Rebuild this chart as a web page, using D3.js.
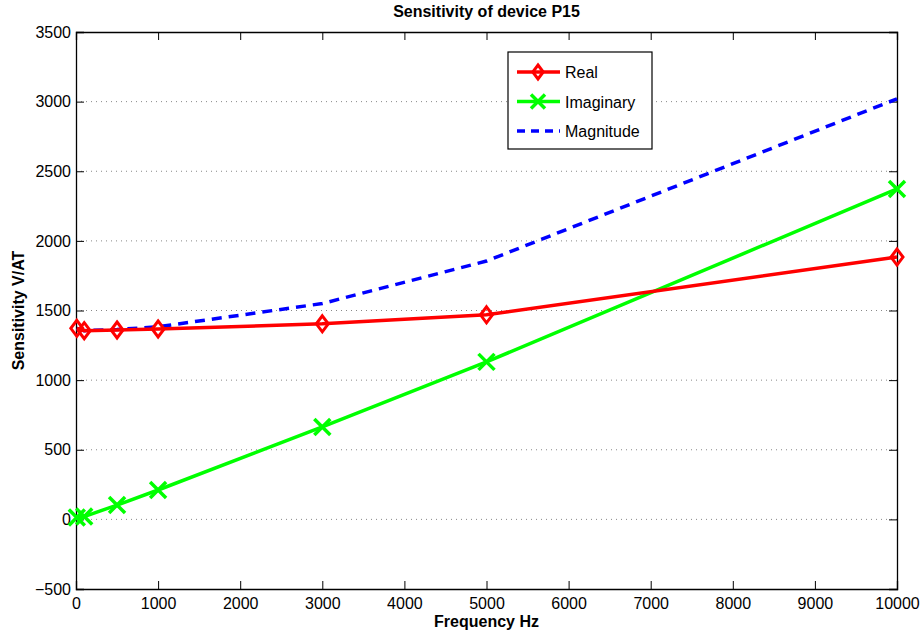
<!DOCTYPE html>
<html lang="en">
<head>
    <meta charset="UTF-8">
    <title>Sensitivity of device P15</title>
    <script src="https://cdn.jsdelivr.net/npm/d3@7/dist/d3.min.js"></script>
    <style>
        body{ margin:0; background:#fff; }
        text{ font-family: "Liberation Sans", Arial, Helvetica, sans-serif; fill:#000; }
    </style>
</head>
<body>
<script type="text/javascript">

    // frequencies (Hz) and measured sensitivities (V/AT)
    var freq      = [10, 100, 500, 1000, 3000, 5000, 10000];
    var real      = [1372, 1355, 1360, 1367, 1404, 1469, 1884];
    var imaginary = [13, 20, 103, 211, 664, 1131, 2373];
    var magnitude = [1372, 1355, 1364, 1383, 1550, 1855, 3020];

    var xTicks = [0, 1000, 2000, 3000, 4000, 5000, 6000, 7000, 8000, 9000, 10000];
    var yTicks = [-500, 0, 500, 1000, 1500, 2000, 2500, 3000, 3500];

    var w = 921, h = 635;
    // plot box (note: "top" is taken by window.top)
    var pLeft = 76, pRight = 897, pTop = 32, pBottom = 589;

    var x = d3.scaleLinear().domain([0, 10000]).range([pLeft, pRight]);
    var y = d3.scaleLinear().domain([-500, 3500]).range([pBottom, pTop]);

    var svg = d3.select("body").append("svg")
        .attr("width", w)
        .attr("height", h);

    // dotted horizontal grid
    svg.append("g").selectAll("line")
        .data(yTicks.slice(1, -1))
        .enter().append("line")
        .attr("x1", pLeft).attr("x2", pRight)
        .attr("y1", function(d){ return y(d); })
        .attr("y2", function(d){ return y(d); })
        .attr("stroke", "#888")
        .attr("stroke-width", 1)
        .attr("stroke-dasharray", "1,4");

    // axes, ticks pointing inward
    var tk = 8;
    svg.append("g")
        .attr("transform", "translate(0," + pBottom + ")")
        .call(d3.axisBottom(x).tickValues(xTicks).tickSize(-tk).tickPadding(9).tickFormat(d3.format("d")));
    svg.append("g")
        .attr("transform", "translate(0," + pTop + ")")
        .call(d3.axisTop(x).tickValues(xTicks).tickSize(-tk).tickFormat(""));
    svg.append("g")
        .attr("transform", "translate(" + pLeft + ",0)")
        .call(d3.axisLeft(y).tickValues(yTicks).tickSize(-tk).tickPadding(5)
            .tickFormat(function(d){ return d < 0 ? "\u2212" + (-d) : d; }));
    svg.append("g")
        .attr("transform", "translate(" + pRight + ",0)")
        .call(d3.axisRight(y).tickValues(yTicks).tickSize(-tk).tickFormat(""));

    svg.selectAll(".domain").attr("stroke", "#000").attr("stroke-width", 1.3);
    svg.selectAll(".tick line").attr("stroke", "#000").attr("stroke-width", 1);
    svg.selectAll(".tick text")
        .attr("font-size", "16px")
        .attr("font-family", "Liberation Sans, Arial, sans-serif")
        .attr("fill", "#000");

    // series lines
    var pts = function(vals){ return freq.map(function(f, i){ return [f, vals[i]]; }); };
    var line = d3.line()
        .x(function(d){ return x(d[0]); })
        .y(function(d){ return y(d[1]); });

    svg.append("path").datum(pts(magnitude))
        .attr("d", line).attr("fill", "none")
        .attr("stroke", "#0000ff").attr("stroke-width", 3.5)
        .attr("stroke-dasharray", "10,7");

    svg.append("path").datum(pts(imaginary))
        .attr("d", line).attr("fill", "none")
        .attr("stroke", "#00ff00").attr("stroke-width", 3.5);

    svg.append("path").datum(pts(real))
        .attr("d", line).attr("fill", "none")
        .attr("stroke", "#ff0000").attr("stroke-width", 3.5);

    // markers
    var diamond = function(cx, cy, r){
        return "M" + cx + "," + (cy - r) + "L" + (cx + r*0.75) + "," + cy +
               "L" + cx + "," + (cy + r) + "L" + (cx - r*0.75) + "," + cy + "Z";
    };
    var cross = function(cx, cy, r){
        return "M" + (cx - r) + "," + (cy - r) + "L" + (cx + r) + "," + (cy + r) +
               "M" + (cx - r) + "," + (cy + r) + "L" + (cx + r) + "," + (cy - r);
    };

    svg.append("g").selectAll("path")
        .data(pts(imaginary))
        .enter().append("path")
        .attr("d", function(d){ return cross(x(d[0]), y(d[1]), 8); })
        .attr("fill", "none").attr("stroke", "#00ff00").attr("stroke-width", 3.5);

    svg.append("g").selectAll("path")
        .data(pts(real))
        .enter().append("path")
        .attr("d", function(d){ return diamond(x(d[0]), y(d[1]), 8); })
        .attr("fill", "none").attr("stroke", "#ff0000").attr("stroke-width", 3);

    // legend
    var lg = svg.append("g").attr("transform", "translate(508,52)");
    lg.append("rect").attr("width", 144).attr("height", 97)
        .attr("fill", "#fff").attr("stroke", "#000").attr("stroke-width", 1.2);
    var items = [
        {name: "Real", color: "#ff0000", mark: "diamond"},
        {name: "Imaginary", color: "#00ff00", mark: "cross"},
        {name: "Magnitude", color: "#0000ff", mark: "dash"}
    ];
    items.forEach(function(it, i){
        var cy = 20 + i * 29.5;
        var l = lg.append("line").attr("x1", 9).attr("x2", 52).attr("y1", cy).attr("y2", cy)
            .attr("stroke", it.color).attr("stroke-width", 3.5);
        if (it.mark === "dash") l.attr("stroke-dasharray", "8,6");
        if (it.mark === "diamond")
            lg.append("path").attr("d", diamond(30, cy, 7)).attr("fill", "none")
                .attr("stroke", it.color).attr("stroke-width", 3);
        if (it.mark === "cross")
            lg.append("path").attr("d", cross(30, cy, 7)).attr("fill", "none")
                .attr("stroke", it.color).attr("stroke-width", 3.5);
        lg.append("text").attr("x", 57).attr("y", cy + 6)
            .attr("font-size", "16px").text(it.name);
    });

    // titles
    svg.append("text").attr("x", (pLeft + pRight) / 2).attr("y", 17)
        .attr("text-anchor", "middle").attr("font-size", "16px").attr("font-weight", "bold")
        .text("Sensitivity of device P15");
    svg.append("text").attr("x", (pLeft + pRight) / 2).attr("y", 627)
        .attr("text-anchor", "middle").attr("font-size", "16px").attr("font-weight", "bold")
        .text("Frequency Hz");
    svg.append("text")
        .attr("transform", "translate(24," + ((pTop + pBottom) / 2) + ") rotate(-90)")
        .attr("text-anchor", "middle").attr("font-size", "16px").attr("font-weight", "bold")
        .text("Sensitivity V/AT");

</script>
</body>
</html>
